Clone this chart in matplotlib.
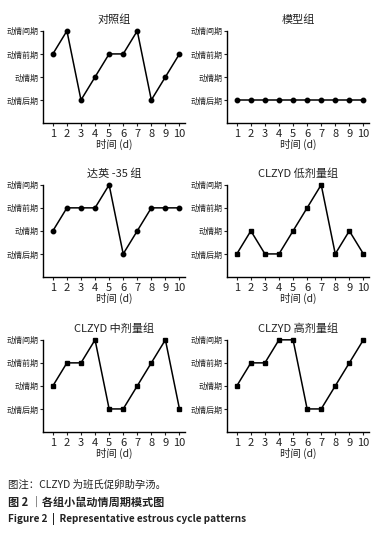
import numpy as np
import matplotlib
matplotlib.use("Agg")
import matplotlib.pyplot as plt

plt.rcParams['font.family'] = ['Noto Sans CJK SC', 'DejaVu Sans']

days = np.arange(1, 11)
stage_labels = ["动情后期", "动情期", "动情前期", "动情间期"]

# 1=动情后期 2=动情期 3=动情前期 4=动情间期
control = [3, 4, 1, 2, 3, 3, 4, 1, 2, 3]
model = [1, 1, 1, 1, 1, 1, 1, 1, 1, 1]
daying = [2, 3, 3, 3, 4, 1, 2, 3, 3, 3]
clzyd_low = [1, 2, 1, 1, 2, 3, 4, 1, 2, 1]
clzyd_mid = [2, 3, 3, 4, 1, 1, 2, 3, 4, 1]
clzyd_high = [2, 3, 3, 4, 4, 1, 1, 2, 3, 4]

groups = [
    ("对照组", control, "o"),
    ("模型组", model, "o"),
    ("达英 -35 组", daying, "o"),
    ("CLZYD 低剂量组", clzyd_low, "s"),
    ("CLZYD 中剂量组", clzyd_mid, "s"),
    ("CLZYD 高剂量组", clzyd_high, "s"),
]

fig = plt.figure(figsize=(3.84, 5.42), dpi=100, facecolor="white")

lefts = [0.112, 0.591]
bottoms = [0.773, 0.489, 0.203]
w, h = 0.370, 0.170

for i, (name, vals, mk) in enumerate(groups):
    ax = fig.add_axes([lefts[i % 2], bottoms[i // 2], w, h])
    ax.plot(days, vals, color="black", lw=1.1, marker=mk, ms=3.2, clip_on=False)
    ax.set_xlim(0.3, 10.4)
    ax.set_ylim(0, 4)
    ax.set_xticks(days)
    ax.set_yticks([1, 2, 3, 4])
    ax.set_yticklabels(stage_labels, fontsize=5.8)
    ax.tick_params(axis="x", labelsize=8, length=2.5, width=0.8, pad=2, colors="#222222")
    ax.tick_params(axis="y", length=2, width=0.8, pad=1, colors="#222222")
    for s in ["top", "right"]:
        ax.spines[s].set_visible(False)
    for s in ["left", "bottom"]:
        ax.spines[s].set_linewidth(1.0)
    ax.set_title(name, fontsize=8, pad=6, color="#222222")
    ax.set_xlabel("时间 (d)", fontsize=7.5, labelpad=0, color="#222222")

fig.text(0.021, 1 - 485 / 542, "图注：CLZYD 为班氏促卵助孕汤。", fontsize=7.5, va="center", color="#222222")
fig.text(0.021, 1 - 502 / 542, "图 2 ｜各组小鼠动情周期模式图", fontsize=8, va="center", fontweight="bold", color="#222222")
fig.text(0.021, 1 - 519 / 542, "Figure 2  |  Representative estrous cycle patterns", fontsize=7.2, va="center",
         fontweight="bold", color="#222222")

fig.savefig("out.png", dpi=100)
